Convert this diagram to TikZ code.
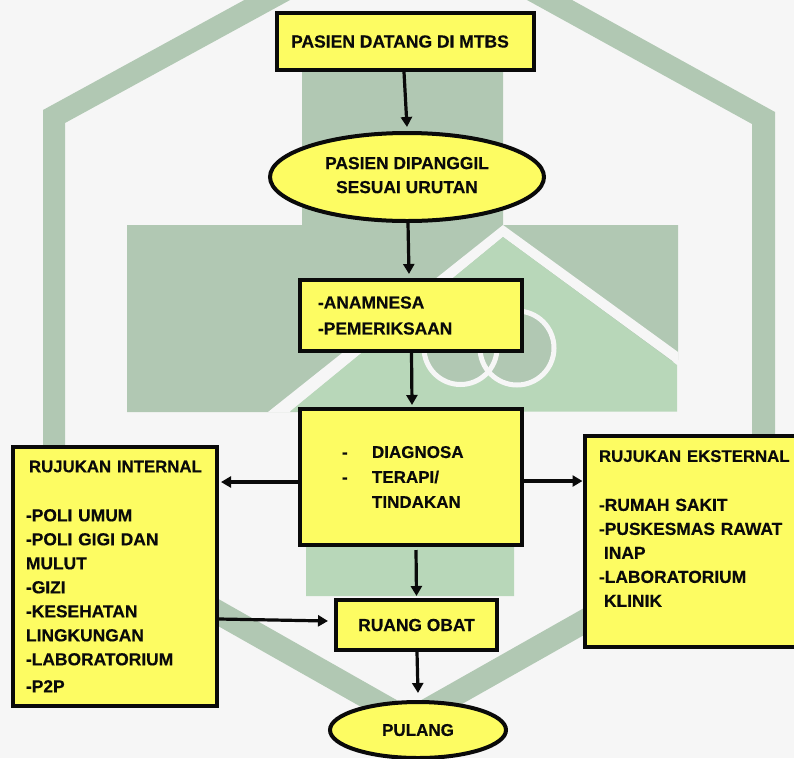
\documentclass[tikz,border=0pt]{standalone}
\usepackage{fontspec}
\setmainfont{Liberation Sans}[BoldFeatures={FakeBold=0.4}]
\usetikzlibrary{arrows.meta,shapes.geometric,calc}
\definecolor{bgc}{HTML}{F6F6F6}
\definecolor{darkg}{HTML}{B1C8B3}
\definecolor{lightg}{HTML}{B8D7B9}
\definecolor{yel}{HTML}{FDFC62}
\definecolor{ink}{HTML}{0A0A0A}
\newcommand{\headfont}{\fontsize{16.8}{24}\selectfont}
\tikzset{
  x=1pt,y=-1pt,
  every node/.style={font=\fontsize{17.4}{24}\selectfont\bfseries,text=ink},
  boxed/.style={draw=ink,fill=yel,line width=4pt,rectangle,inner xsep=0pt,inner ysep=0pt},
  oval/.style={draw=ink,fill=yel,line width=4pt,ellipse,inner sep=0pt,align=center},
  flow/.style={draw=ink,line width=3.2pt,-{Triangle[length=10pt,width=11pt]}},
}
\begin{document}
\begin{tikzpicture}
\useasboundingbox (0,0) rectangle (794,758);
\clip (0,0) rectangle (794,758);
\fill[bgc] (0,0) rectangle (794,758);
% hexagon band
\fill[darkg,even odd rule]
  (409,-90) -- (775,112) -- (775,527) -- (409,734) -- (43,527) -- (43,110) -- cycle
  (409,-65) -- (752,124) -- (752,513) -- (409,707) -- (65,512) -- (65,123) -- cycle;
% cross
\fill[darkg] (302,60) -- (503,60) -- (503,225) -- (678,225) -- (678,360) -- (503,412) -- (127,412) -- (127,225) -- (302,225) -- cycle;
% roof
\fill[bgc] (503,225) -- (678,352) -- (678,365) -- (503,237) -- (290,412) -- (268,412) -- cycle;
\fill[lightg] (503,237) -- (677,365) -- (677,411.5) -- (514,411.5) -- (514,596) -- (306,596) -- (306,411.5) -- (290,411.5) -- cycle;
% rings
\fill[darkg] (460.5,348) circle (36.5);
\fill[darkg] (516.5,348) circle (36.5);
\draw[bgc,line width=5pt] (460.5,348) circle (36.5);
\draw[bgc,line width=5pt] (517,348) circle (37);
% nodes
\node[boxed,minimum width=257pt,minimum height=57pt,align=center] (datang) at (405.5,41.5) {\fontsize{17.5}{24}\selectfont PASIEN DATANG DI MTBS\hspace*{11pt}};
\node[oval,minimum width=274pt,minimum height=88pt] (panggil) at (407,177) {PASIEN DIPANGGIL\\SESUAI URUTAN\\[-20pt]\mbox{}};
\node[boxed,minimum width=222pt,minimum height=71pt,text width=186pt,align=left] (anam) at (411,315.5) {-ANAMNESA\\[2pt]-PEMERIKSAAN};
\node[boxed,minimum width=222pt,minimum height=136pt,text width=138pt,align=left] (diag) at (411,477)
  {\fontsize{17}{24}\selectfont\makebox[30pt][l]{-}DIAGNOSA\\[1pt]\makebox[30pt][l]{-}TERAPI/\\[1pt]\hspace*{30pt}TINDAKAN};
\node[boxed,minimum width=204pt,minimum height=259pt,text width=178pt,align=left] (internal) at (115,576.5)
  {\hspace*{3pt}{\headfont RUJUKAN INTERNAL}\\[25pt]-POLI UMUM\\-POLI GIGI DAN\\MULUT\\-GIZI\\-KESEHATAN\\LINGKUNGAN\\-LABORATORIUM\\[3pt]-P2P};
\node[boxed,minimum width=240pt,minimum height=211pt,text width=211pt,align=left] (eksternal) at (704.5,541.5)
  {{\headfont RUJUKAN EKSTERNAL}\\[25pt]-RUMAH SAKIT\\-PUSKESMAS RAWAT\\\hspace*{5pt}INAP\\-LABORATORIUM\\\hspace*{5pt}KLINIK\\[2pt]\mbox{}};
\node[boxed,minimum width=161pt,minimum height=50pt,align=center] (obat) at (416.5,625) {RUANG OBAT};
\node[oval,minimum width=176pt,minimum height=56pt] (pulang) at (418,730) {\fontsize{17}{24}\selectfont PULANG};
% connectors
\draw[flow] ([xshift=-1.5pt]datang.south) -- ([yshift=4pt]panggil.north);
\draw[flow] ([xshift=1pt]panggil.south) -- ([xshift=-2pt,yshift=4pt]anam.north);
\draw[flow] ([xshift=0.5pt]anam.south) -- ([xshift=1pt,yshift=2pt]diag.north);
\draw[flow] (diag.west |- 0,482) -- (221,482);
\draw[flow] (diag.east |- 0,481) -- (eksternal.west |- 0,481);
\draw[flow] ([xshift=5pt,yshift=-3pt]diag.south) -- ([yshift=2pt]obat.north);
\draw[flow] (internal.east |- 0,619) -- ([xshift=-6pt,yshift=4pt]obat.west);
\draw[flow] ([xshift=0.5pt]obat.south) -- ([yshift=7pt]pulang.north);
\end{tikzpicture}
\end{document}
